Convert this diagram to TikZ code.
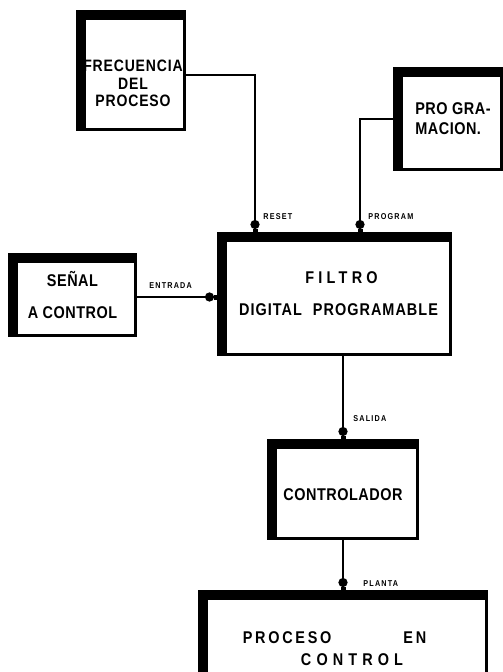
\documentclass[tikz,border=0pt]{standalone}
\usepackage{fontspec}
\usetikzlibrary{arrows.meta}
\newfontfamily\dinfont[FakeStretch=0.85,LetterSpace=3]{Liberation Sans}

\begin{document}
\begin{tikzpicture}[x=1pt, y=-1pt,
		blk/.style={draw, line width=3pt, align=center, inner sep=0pt,
			font=\dinfont\bfseries\fontsize{17}{20}\selectfont,
			path picture={
				\fill (path picture bounding box.north west) rectangle ([yshift=-8.5pt]path picture bounding box.north east);
				\fill (path picture bounding box.north west) rectangle ([xshift=8pt]path picture bounding box.south west);}},
		conn/.style={line width=2.8pt, -{Circle[length=9pt,width=9pt]Rectangle[length=3pt,width=5pt]}},
		lbl/.style={inner sep=0pt, font=\dinfont\bfseries\fontsize{8.5}{9}\selectfont\addfontfeature{LetterSpace=14}}]

	\useasboundingbox (0,0) rectangle (503,672);
	\fill[white] (0,0) rectangle (503,672);

	\node[blk, minimum width=107pt, minimum height=118pt] (frec) at (131,70.5)
		{\raisebox{-19pt}[0pt][0pt]{\hspace*{4pt}\fontsize{16.5}{20}\selectfont\addfontfeature{LetterSpace=5}\begin{tabular}{@{}c@{}}FRECUENCIA\\[-2.5pt]DEL\\[-2.5pt]PROCESO\end{tabular}}};
	\node[blk, minimum width=107pt, minimum height=101pt, align=left] (prog) at (448,119)
		{\hspace*{10pt}PRO\ GRA-\\[0pt]\hspace*{10pt}MACION.};
	\node[blk, minimum width=126pt, minimum height=81pt] (senal) at (72.5,295)
		{SEÑAL\\[12pt]A CONTROL};
	\node[blk, minimum width=232pt, minimum height=121pt] (filtro) at (334.5,294)
		{\hspace*{14pt}{\addfontfeature{LetterSpace=25}FILTRO}\\[12pt]\hspace*{8pt}{\addfontfeature{LetterSpace=6}DIGITAL\hspace{11pt}PROGRAMABLE}};
	\node[blk, minimum width=149pt, minimum height=98pt] (ctrl) at (343,489.5)
		{\raisebox{-11pt}[0pt][0pt]{CONTROLADOR}};
	\node[blk, minimum width=287pt, minimum height=114pt] (proc) at (343,648.5)
		{{\addfontfeature{LetterSpace=16}PROCESO\hspace{72pt}EN}\hspace*{17pt}\\[2pt]\hspace*{18pt}{\addfontfeature{LetterSpace=30}CONTROL}};

	\draw[conn] ([yshift=-4.5pt]frec.east) -| ([xshift=-79.5pt]filtro.north)
		node[lbl, pos=1, anchor=west, xshift=7pt, yshift=15.5pt] {RESET};
	\draw[conn] (prog.west) -| ([xshift=25.5pt]filtro.north)
		node[lbl, pos=1, anchor=west, xshift=7pt, yshift=15.5pt] {PROGRAM};
	\draw[conn] ([yshift=-2pt]senal.east) -- ([yshift=-3pt]filtro.west)
		node[lbl, pos=0, anchor=west, xshift=11pt, yshift=11pt] {ENTRADA};
	\draw[conn] (ctrl.north |- filtro.south) -- (ctrl.north)
		node[lbl, pos=1, anchor=west, xshift=9pt, yshift=20pt] {SALIDA};
	\draw[conn] (ctrl.south) -- (proc.north)
		node[lbl, pos=1, anchor=west, xshift=19pt, yshift=6.5pt] {PLANTA};
\end{tikzpicture}
\end{document}
